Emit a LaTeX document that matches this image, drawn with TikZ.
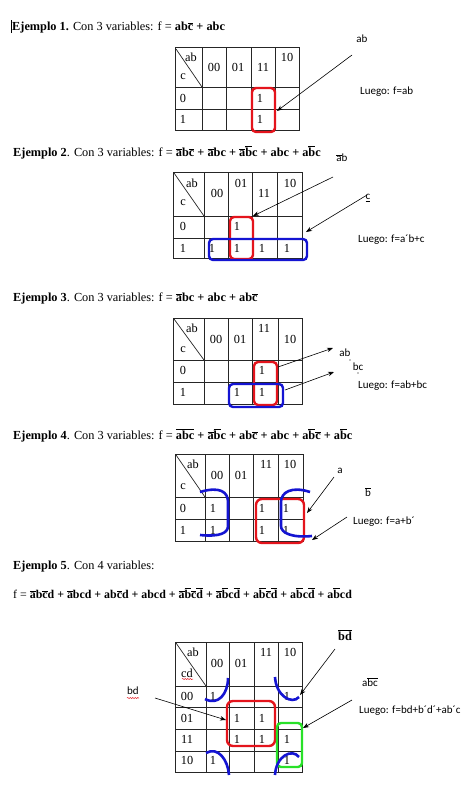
\documentclass[tikz,border=0pt]{standalone}
\usepackage{fontspec}
\setmainfont{Liberation Serif}
\newfontfamily\calib{Carlito}
\usetikzlibrary{arrows.meta,decorations.pathmorphing}
\definecolor{kred}{RGB}{228,20,28}
\definecolor{kblue}{RGB}{20,20,210}
\definecolor{kgreen}{RGB}{40,225,40}
\newcommand\ov[1]{\ensuremath{\overline{\mbox{#1}}}}
\tikzset{
  grid/.style={line width=0.7pt, black!85},
  tx/.style={font=\fontsize{12.3}{14}\selectfont, inner sep=0pt},
  lab/.style={font=\calib\fontsize{11}{13}\selectfont, inner sep=0pt},
  ttl/.style={font=\fontsize{12.3}{14}\selectfont, inner sep=0pt, anchor=base west},
  redbox/.style={draw=kred, line width=2.4pt, rounded corners=4pt},
  bluebox/.style={draw=kblue, line width=2.4pt, rounded corners=4pt},
  greenbox/.style={draw=kgreen, line width=2.4pt, rounded corners=4pt},
  bluec/.style={draw=kblue, line width=2.6pt},
  arr/.style={-{Stealth[length=6pt,width=4.5pt]}, line width=0.6pt},
  wavy/.style={draw=kred, line width=0.5pt, decorate, decoration={snake, amplitude=0.6pt, segment length=2.5pt}}
}
\begin{document}
\begin{tikzpicture}[x=1pt,y=-1pt]
\useasboundingbox (0,0) rectangle (474,793);
\fill[white] (0,0) rectangle (474,793);

% ---------------- Example 1 ----------------
\draw[line width=1pt] (11,20) -- (11,33);
\node[ttl] (t1) at (12,30) {\textbf{Ejemplo 1.} Con 3 variables: f = {\bfseries ab\ov{c} + abc}};
\draw[grid] (175,47) rectangle (299,130);
\foreach \x in {202,226,251,275} \draw[grid] (\x,47) -- (\x,130);
\foreach \y in {87,109} \draw[grid] (175,\y) -- (299,\y);
\draw[grid] (176,49) -- (202,87);
\node[tx] (h1ab) at (191,57) {ab};
\node[tx] (h1c) at (183,77) {c};
\node[tx] (h1a) at (214,67) {00};
\node[tx] (h1b) at (238,67) {01};
\node[tx] (h1d) at (263,67) {11};
\node[tx] (h1e) at (287,57) {10};
\node[tx] (r1a) at (183,98) {0};
\node[tx] (r1b) at (183,119) {1};
\node[tx] (v1a) at (260,98) {1};
\node[tx] (v1b) at (260,119) {1};
\draw[redbox] (252,88) rectangle (275,132);
\node[lab] (l1ab) at (362,39) {ab};
\coordinate (a1s) at (352,55);
\coordinate (a1e) at (277,111);
\draw[arr] (a1s) -- (a1e);
\node[lab, anchor=west] (f1) at (360,92) {Luego: f=ab};

% ---------------- Example 2 ----------------
\node[ttl] (t2) at (13,156) {\textbf{Ejemplo 2}. Con 3 variables: f = {\bfseries \ov{a}b\ov{c} + \ov{a}bc + \ov{a}\ov{b}c + abc + a\ov{b}c}};
\draw[grid] (173,172) rectangle (302,258);
\foreach \x in {204,228,252,277} \draw[grid] (\x,172) -- (\x,258);
\foreach \y in {216,238} \draw[grid] (173,\y) -- (302,\y);
\draw[grid] (174,173) -- (204,216);
\node[tx] (h2ab) at (192,183) {ab};
\node[tx] (h2c) at (183,203) {c};
\node[tx] (h2a) at (217,193) {00};
\node[tx] (h2b) at (241,183) {01};
\node[tx] (h2d) at (264,193) {11};
\node[tx] (h2e) at (290,183) {10};
\node[tx] (r2a) at (183,226) {0};
\node[tx] (r2b) at (183,248) {1};
\node[tx] (v2a) at (237,226) {1};
\node[tx] (v2b) at (212,248) {1};
\node[tx] (v2c) at (237,248) {1};
\node[tx] (v2d) at (262,248) {1};
\node[tx] (v2e) at (287,248) {1};
\draw[redbox] (230,217) rectangle (253,259);
\draw[bluebox] (209,239) rectangle (307,260);
\node[lab] (l2ab) at (342,158) {\ov{a}b};
\node[lab] (l2c) at (368,198) {\underline{c}};
\coordinate (a2s) at (333,177);
\coordinate (a2e) at (253,216);
\coordinate (b2s) at (367,195);
\coordinate (b2e) at (306,232);
\draw[arr] (a2s) -- (a2e);
\draw[arr] (b2s) -- (b2e);
\node[lab, anchor=west] (f2) at (358,240) {Luego: f=a´b+c};

% ---------------- Example 3 ----------------
\node[ttl] (t3) at (13,301) {\textbf{Ejemplo 3}. Con 3 variables: f = {\bfseries \ov{a}bc + abc + ab\ov{c}}};
\draw[grid] (173,318) rectangle (302,404);
\foreach \x in {204,228,252,278} \draw[grid] (\x,318) -- (\x,404);
\foreach \y in {360,382} \draw[grid] (173,\y) -- (302,\y);
\draw[grid] (174,319) -- (204,360);
\node[tx] (h3ab) at (192,328) {ab};
\node[tx] (h3c) at (183,350) {c};
\node[tx] (h3a) at (216,339) {00};
\node[tx] (h3b) at (240,339) {01};
\node[tx] (h3d) at (264,328) {11};
\node[tx] (h3e) at (290,339) {10};
\node[tx] (r3a) at (183,370) {0};
\node[tx] (r3b) at (183,392) {1};
\node[tx] (v3a) at (262,370) {1};
\node[tx] (v3b) at (237,392) {1};
\node[tx] (v3c) at (262,392) {1};
\draw[redbox] (254,362) rectangle (277,405);
\draw[bluebox] (229,384) rectangle (283,407);
\node[lab] (l3ab) at (345,353) {ab};
\node[lab] (l3bc) at (358,367) {bc};
\fill (350,360) circle (0.6);
\fill (358,373) circle (0.6);
\coordinate (a3s) at (278,367);
\coordinate (a3e) at (333,348);
\coordinate (b3s) at (285,390);
\coordinate (b3e) at (334,372);
\draw[arr] (a3s) -- (a3e);
\draw[arr] (b3s) -- (b3e);
\node[lab, anchor=west] (f3) at (358,386) {Luego: f=ab+bc};

% ---------------- Example 4 ----------------
\node[ttl] (t4) at (13,439) {\textbf{Ejemplo 4}. Con 3 variables: f = {\bfseries \ov{abc} + \ov{a}\ov{b}c + ab\ov{c} + abc + a\ov{b}\ov{c} + a\ov{b}c}};
\draw[grid] (175,454) rectangle (303,541);
\foreach \x in {205,229,253,278} \draw[grid] (\x,454) -- (\x,541);
\foreach \y in {497,519} \draw[grid] (175,\y) -- (303,\y);
\draw[grid] (176,455) -- (205,497);
\node[tx] (h4ab) at (193,464) {ab};
\node[tx] (h4c) at (183,487) {c};
\node[tx] (h4a) at (217,475) {00};
\node[tx] (h4b) at (241,475) {01};
\node[tx] (h4d) at (266,464) {11};
\node[tx] (h4e) at (290,464) {10};
\node[tx] (r4a) at (183,508) {0};
\node[tx] (r4b) at (183,530) {1};
\node[tx] (v4a) at (213,508) {1};
\node[tx] (v4b) at (262,508) {1};
\node[tx] (v4c) at (286,508) {1};
\node[tx] (v4d) at (213,530) {1};
\node[tx] (v4e) at (262,530) {1};
\node[tx] (v4f) at (286,530) {1};
\draw[redbox, rounded corners=6pt] (256,499) rectangle (304,543);
\draw[bluec] (200,492) .. controls (220,486) and (228,492) .. (228,502) -- (228,526) .. controls (228,533) and (220,537) .. (200,535);
\draw[bluec] (310,492) .. controls (292,486) and (281,492) .. (281,502) -- (281,526) .. controls (281,533) and (292,538) .. (312,536);
\node[lab] (l4a) at (340,471) {a};
\node[lab] (l4b) at (368,492) {\ov{b}};
\coordinate (a4s) at (334,477);
\coordinate (a4e) at (307,513);
\coordinate (b4s) at (347,517);
\coordinate (b4e) at (312,540);
\draw[arr] (a4s) -- (a4e);
\draw[arr] (b4s) -- (b4e);
\node[lab, anchor=west] (f4) at (353,522) {Luego: f=a+b´};

% ---------------- Example 5 ----------------
\node[ttl] (t5) at (13,569) {\textbf{Ejemplo 5}. Con 4 variables:};
\node[ttl, font=\fontsize{11.9}{14}\selectfont] (e5) at (13,598) {f = {\bfseries \ov{a}b\ov{c}d + \ov{a}bcd + ab\ov{c}d + abcd + \ov{a}\ov{b}\ov{c}\ov{d} + \ov{a}\ov{b}c\ov{d} + a\ov{b}\ov{c}\ov{d} + a\ov{b}c\ov{d} + a\ov{b}cd}};
\draw[grid] (175,642) rectangle (302,772);
\foreach \x in {206,229,254,278} \draw[grid] (\x,642) -- (\x,772);
\foreach \y in {686,707,729,751} \draw[grid] (175,\y) -- (302,\y);
\draw[grid] (176,643) -- (206,686);
\node[tx] (h5ab) at (193,652) {ab};
\node[tx] (h5cd) at (187,673) {cd};
\draw[wavy] (182,679) -- (193,679);
\node[tx] (h5a) at (217,663) {00};
\node[tx] (h5b) at (241,663) {01};
\node[tx] (h5d) at (266,652) {11};
\node[tx] (h5e) at (290,652) {10};
\node[tx] (r5a) at (187,696) {00};
\node[tx] (r5b) at (187,718) {01};
\node[tx] (r5c) at (187,739) {11};
\node[tx] (r5d) at (187,760) {10};
\node[tx] (v5a) at (213,696) {1};
\node[tx] (v5b) at (287,696) {1};
\node[tx] (v5c) at (237,718) {1};
\node[tx] (v5d) at (262,718) {1};
\node[tx] (v5e) at (237,739) {1};
\node[tx] (v5f) at (262,739) {1};
\node[tx] (v5g) at (287,739) {1};
\node[tx] (v5h) at (213,760) {1};
\node[tx] (v5i) at (287,760) {1};
\draw[redbox, rounded corners=6pt] (227,701) rectangle (275,746);
\draw[greenbox] (277,723) rectangle (302,767);
\draw[bluec] (205,699) .. controls (218,706) and (228,694) .. (228,678);
\draw[bluec] (275,677) .. controls (276,696) and (292,705) .. (299,697);
\draw[bluec] (206,753) .. controls (218,746) and (228,760) .. (229,775);
\draw[bluec] (275,775) .. controls (276,756) and (292,748) .. (299,757);
\node[tx, font=\fontsize{12.3}{14}\selectfont\bfseries] (l5bd) at (345,635) {\ov{b}\ov{d}};
\node[lab] (l5bd2) at (133,691) {bd};
\draw[wavy] (127,698) -- (139,698);
\node[lab] (l5abc) at (370,682) {a\ov{bc}};
\coordinate (a5s) at (335,649);
\coordinate (a5e) at (300,695);
\coordinate (b5s) at (155,698);
\coordinate (b5e) at (226,720);
\coordinate (c5s) at (352,700);
\coordinate (c5e) at (303,728);
\draw[arr] (a5s) -- (a5e);
\draw[arr] (b5s) -- (b5e);
\draw[arr] (c5s) -- (c5e);
\node[lab, anchor=west] (f5) at (359,711) {Luego: f=bd+b´d´+ab´c};
\end{tikzpicture}
\end{document}
